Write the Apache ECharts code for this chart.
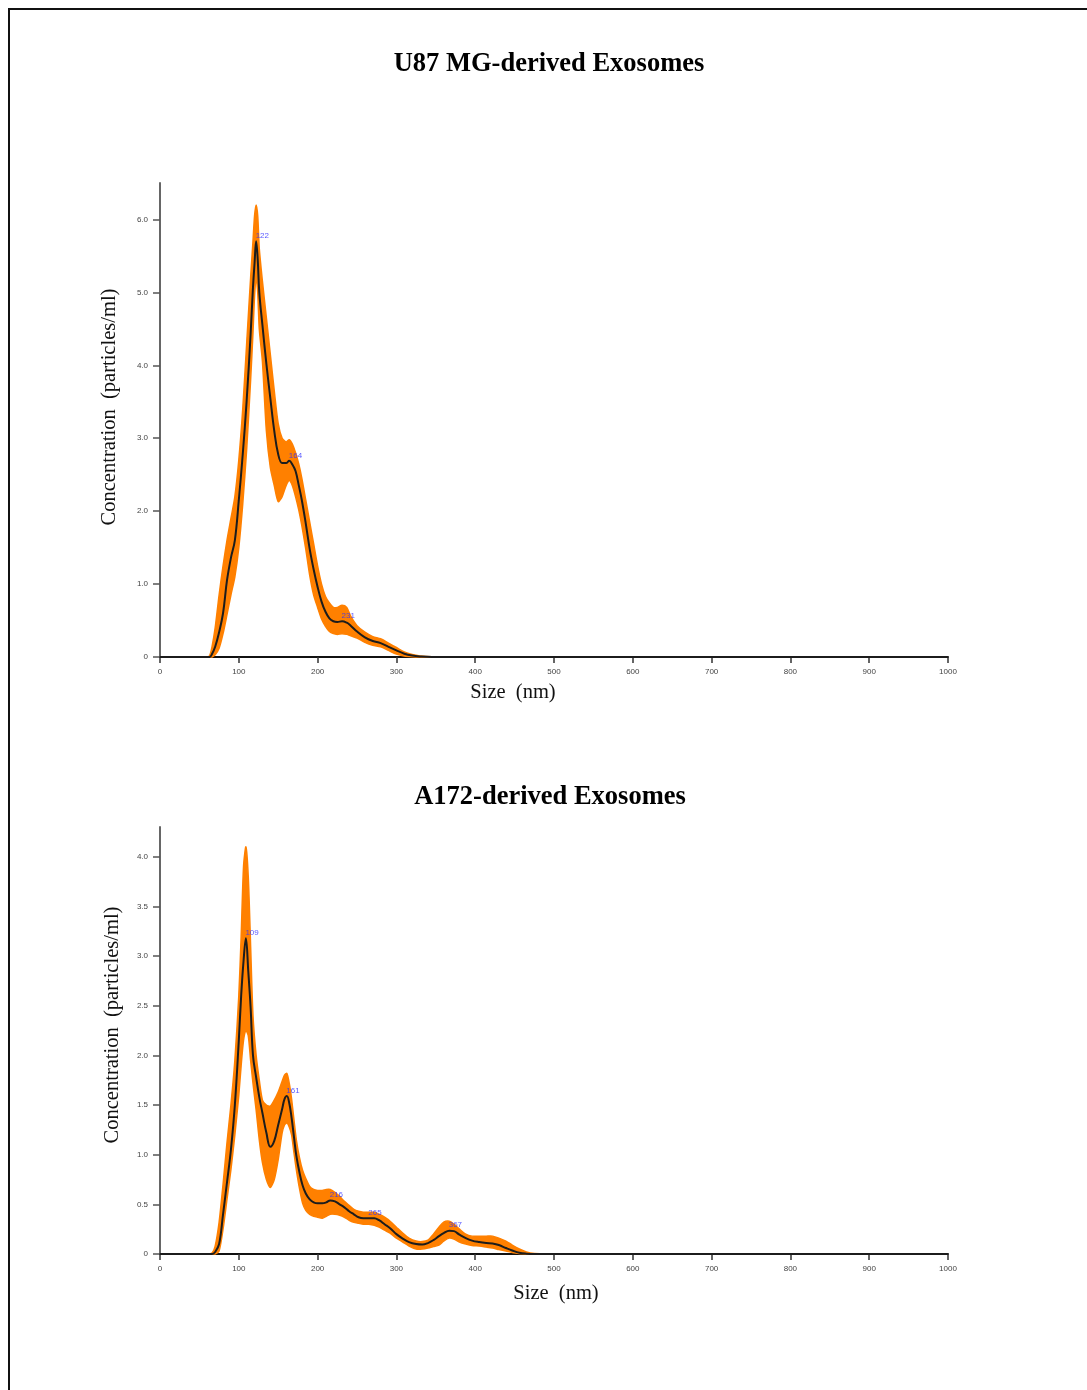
<!DOCTYPE html>
<html>
<head>
<meta charset="utf-8">
<script src="https://cdn.jsdelivr.net/npm/echarts@6/dist/echarts.min.js"></script>
<style>
  html, body { margin:0; padding:0; background:#fff; }
  #chart { width:1087px; height:1390px; }
</style>
</head>
<body>
<div id="chart"></div>
<script>
// ---------- U87 MG-derived Exosomes ----------
const sizeU  = [0, 50, 60, 63, 66, 70, 75, 80, 85, 90, 95, 100, 105, 110, 115, 118, 120, 122, 124, 126, 130, 135, 140, 145, 150, 155, 160, 164, 168, 172, 176, 180, 185, 190, 195, 200, 205, 210, 215, 220, 225, 231, 237, 242, 250, 260, 270, 280, 290, 300, 310, 320, 330, 345, 370, 1000];
const meanU  = [0, 0, 0, 0, 0.04, 0.14, 0.34, 0.6, 1.05, 1.36, 1.6, 2.15, 2.78, 3.52, 4.43, 5.07, 5.4, 5.7, 5.45, 5.0, 4.55, 4.02, 3.55, 3.1, 2.78, 2.66, 2.66, 2.69, 2.64, 2.55, 2.36, 2.15, 1.83, 1.48, 1.2, 0.96, 0.76, 0.62, 0.53, 0.49, 0.48, 0.49, 0.47, 0.43, 0.35, 0.27, 0.22, 0.19, 0.14, 0.09, 0.045, 0.02, 0.008, 0, 0, 0];
const upperU = [0, 0, 0, 0.02, 0.14, 0.4, 0.85, 1.25, 1.6, 1.9, 2.2, 2.7, 3.4, 4.3, 5.2, 5.7, 6.05, 6.2, 6.05, 5.6, 5.15, 4.65, 4.15, 3.65, 3.2, 3.0, 2.95, 2.98, 2.92, 2.8, 2.65, 2.45, 2.15, 1.85, 1.55, 1.25, 1.0, 0.83, 0.74, 0.68, 0.68, 0.71, 0.68, 0.56, 0.43, 0.34, 0.28, 0.25, 0.19, 0.13, 0.07, 0.035, 0.015, 0.003, 0, 0];
const lowerU = [0, 0, 0, 0, 0, 0.03, 0.12, 0.32, 0.58, 0.85, 1.1, 1.5, 2.1, 2.85, 3.8, 4.45, 4.95, 5.2, 5.0, 4.5, 4.05, 3.1, 2.6, 2.35, 2.13, 2.2, 2.35, 2.42, 2.35, 2.2, 2.02, 1.8, 1.48, 1.12, 0.85, 0.68, 0.52, 0.42, 0.35, 0.32, 0.31, 0.32, 0.31, 0.29, 0.26, 0.2, 0.16, 0.14, 0.09, 0.04, 0.015, 0.005, 0, 0, 0, 0];
const peakXU = [122, 164, 231];
const peakYU = [5.7, 2.69, 0.49];

// ---------- A172-derived Exosomes ----------
const sizeA  = [0, 50, 60, 66, 70, 75, 80, 85, 90, 95, 100, 103, 106, 109, 112, 115, 118, 122, 126, 130, 135, 140, 145, 150, 155, 158, 161, 164, 167, 170, 173, 177, 181, 185, 190, 195, 200, 206, 211, 216, 222, 228, 234, 240, 246, 252, 258, 265, 272, 278, 285, 292, 300, 308, 316, 325, 333, 340, 347, 354, 360, 367, 373, 380, 388, 396, 405, 414, 422, 430, 439, 447, 456, 465, 475, 490, 1000];
const meanA  = [0, 0, 0, 0, 0.02, 0.1, 0.4, 0.72, 1.05, 1.5, 2.15, 2.6, 2.95, 3.18, 2.85, 2.48, 2.0, 1.78, 1.58, 1.42, 1.22, 1.08, 1.14, 1.3, 1.46, 1.56, 1.59, 1.52, 1.37, 1.18, 0.99, 0.82, 0.69, 0.61, 0.55, 0.52, 0.51, 0.51, 0.52, 0.54, 0.53, 0.5, 0.47, 0.43, 0.4, 0.37, 0.36, 0.36, 0.36, 0.34, 0.3, 0.26, 0.2, 0.155, 0.12, 0.1, 0.095, 0.11, 0.14, 0.18, 0.21, 0.235, 0.23, 0.195, 0.16, 0.135, 0.12, 0.11, 0.105, 0.09, 0.06, 0.035, 0.012, 0.003, 0, 0, 0];
const upperA = [0, 0, 0, 0.01, 0.08, 0.32, 0.7, 1.12, 1.5, 1.95, 2.6, 3.2, 3.9, 4.1, 3.8, 3.1, 2.4, 2.0, 1.75, 1.55, 1.5, 1.49, 1.55, 1.63, 1.74, 1.8, 1.82, 1.72, 1.56, 1.35, 1.15, 0.97, 0.84, 0.76, 0.68, 0.65, 0.64, 0.64, 0.65, 0.65, 0.62, 0.58, 0.53, 0.49, 0.45, 0.43, 0.42, 0.42, 0.42, 0.4, 0.37, 0.33, 0.27, 0.21, 0.16, 0.13, 0.125, 0.14, 0.2, 0.27, 0.32, 0.33, 0.3, 0.25, 0.2, 0.18, 0.18, 0.18, 0.18, 0.16, 0.13, 0.09, 0.05, 0.02, 0.005, 0, 0];
const lowerA = [0, 0, 0, 0, 0, 0.03, 0.25, 0.55, 0.85, 1.2, 1.6, 1.9, 2.15, 2.25, 2.2, 1.95, 1.72, 1.45, 1.15, 0.92, 0.75, 0.67, 0.75, 0.95, 1.22, 1.3, 1.32, 1.28, 1.2, 1.02, 0.85, 0.66, 0.51, 0.44, 0.4, 0.38, 0.37, 0.36, 0.38, 0.4, 0.4, 0.39, 0.37, 0.34, 0.32, 0.31, 0.3, 0.3, 0.29, 0.27, 0.24, 0.21, 0.16, 0.12, 0.08, 0.05, 0.05, 0.06, 0.075, 0.09, 0.13, 0.16, 0.15, 0.12, 0.1, 0.085, 0.08, 0.07, 0.06, 0.045, 0.03, 0.015, 0.005, 0, 0, 0, 0];
const peakXA = [109, 161, 216, 265, 367];
const peakYA = [3.18, 1.59, 0.54, 0.36, 0.235];

// ---------- axis ticks ----------
const xTicks  = [0, 100, 200, 300, 400, 500, 600, 700, 800, 900, 1000];
const yTicksU = [0, 1, 2, 3, 4, 5, 6];
const yTicksA = [0, 0.5, 1, 1.5, 2, 2.5, 3, 3.5, 4];

const titles = ['U87 MG-derived Exosomes', 'A172-derived Exosomes'];
const xName = 'Size  (nm)';
const yName = 'Concentration  (particles/ml)';

// ---------- build ----------
const ORANGE = '#ff8000';
const pairs = (xs, ys) => xs.map((x, i) => [x, ys[i]]);

function xAxis(idx) {
  return {
    type: 'value', gridIndex: idx, min: 0, max: 1000, interval: 100,
    axisLine: { show: true, onZero: false, lineStyle: { color: '#111', width: 2 } },
    axisTick: { show: true, length: 6, customValues: xTicks, lineStyle: { color: '#333', width: 1.5 } },
    axisLabel: { customValues: xTicks, fontSize: 8, color: '#444', margin: 11, fontFamily: 'Liberation Sans',
      formatter: v => String(v) },
    splitLine: { show: false }
  };
}
function yAxis(idx, max, ticks) {
  return {
    type: 'value', gridIndex: idx, min: 0, max: max,
    axisLine: { show: true, onZero: false, lineStyle: { color: '#666', width: 2 } },
    axisTick: { show: true, length: 7, customValues: ticks, lineStyle: { color: '#555', width: 1.5 } },
    axisLabel: { customValues: ticks, fontSize: 8, color: '#444', margin: 12, fontFamily: 'Liberation Sans',
      formatter: v => (v === 0 ? '0' : v.toFixed(1)) },
    splitLine: { show: false }
  };
}
function seriesFor(idx, xs, mean, hi, lo, px, py) {
  return [
    { type: 'custom', xAxisIndex: idx, yAxisIndex: idx, silent: true, z: 3,
      data: xs.map((x, i) => [x, lo[i], hi[i]]),
      encode: { x: 0, y: [1, 2] },
      renderItem: (params, api) => {
        if (params.dataIndex !== 0) return null;
        const top = xs.map((x, i) => api.coord([x, hi[i]]));
        const bot = xs.map((x, i) => api.coord([x, lo[i]])).reverse();
        return { type: 'polygon', shape: { points: top.concat(bot), smooth: 0.25 },
          style: { fill: ORANGE, stroke: ORANGE, lineWidth: 1.5 } };
      } },
    { type: 'line', xAxisIndex: idx, yAxisIndex: idx, data: pairs(xs, mean), smooth: 0.4,
      symbol: 'none', lineStyle: { color: '#1c1c1c', width: 2 }, silent: true, z: 4 },
    { type: 'scatter', xAxisIndex: idx, yAxisIndex: idx, data: pairs(px, py), symbolSize: 1,
      itemStyle: { color: 'rgba(0,0,0,0)' }, silent: true, z: 5,
      label: { show: true, position: [0, -5], align: 'left', verticalAlign: 'middle',
        fontSize: 8, color: '#3030ff', fontFamily: 'Liberation Sans',
        formatter: p => String(px[p.dataIndex]) } }
  ];
}

const serif = '"Liberation Serif", "Times New Roman", serif';
const option = {
  backgroundColor: '#ffffff',
  animation: false,
  grid: [
    { left: 160, top: 183, width: 788, height: 474 },
    { left: 160, top: 827, width: 788, height: 427 }
  ],
  xAxis: [xAxis(0), xAxis(1)],
  yAxis: [yAxis(0, 6.5, yTicksU), yAxis(1, 4.3, yTicksA)],
  series: [
    ...seriesFor(0, sizeU, meanU, upperU, lowerU, peakXU, peakYU),
    ...seriesFor(1, sizeA, meanA, upperA, lowerA, peakXA, peakYA)
  ],
  graphic: [
    { type: 'polyline', shape: { points: [[1087, 9], [9, 9], [9, 1390]] }, style: { stroke: '#111', lineWidth: 2, fill: null } },
    { type: 'text', x: 549, y: 64, style: { text: titles[0], font: 'bold 26.5px ' + serif, fill: '#000', textAlign: 'center', textVerticalAlign: 'middle' } },
    { type: 'text', x: 550, y: 797, style: { text: titles[1], font: 'bold 26.5px ' + serif, fill: '#000', textAlign: 'center', textVerticalAlign: 'middle' } },
    { type: 'text', x: 513, y: 693, style: { text: xName, font: '20.5px ' + serif, fill: '#111', textAlign: 'center', textVerticalAlign: 'middle' } },
    { type: 'text', x: 556, y: 1294, style: { text: xName, font: '20.5px ' + serif, fill: '#111', textAlign: 'center', textVerticalAlign: 'middle' } },
    { type: 'text', x: 110, y: 407, rotation: Math.PI / 2, style: { text: yName, font: '20.5px ' + serif, fill: '#111', textAlign: 'center', textVerticalAlign: 'middle' } },
    { type: 'text', x: 113, y: 1025, rotation: Math.PI / 2, style: { text: yName, font: '20.5px ' + serif, fill: '#111', textAlign: 'center', textVerticalAlign: 'middle' } }
  ]
};

const chart = echarts.init(document.getElementById('chart'), null, { renderer: 'canvas' });
chart.setOption(option);
</script>
</body>
</html>
